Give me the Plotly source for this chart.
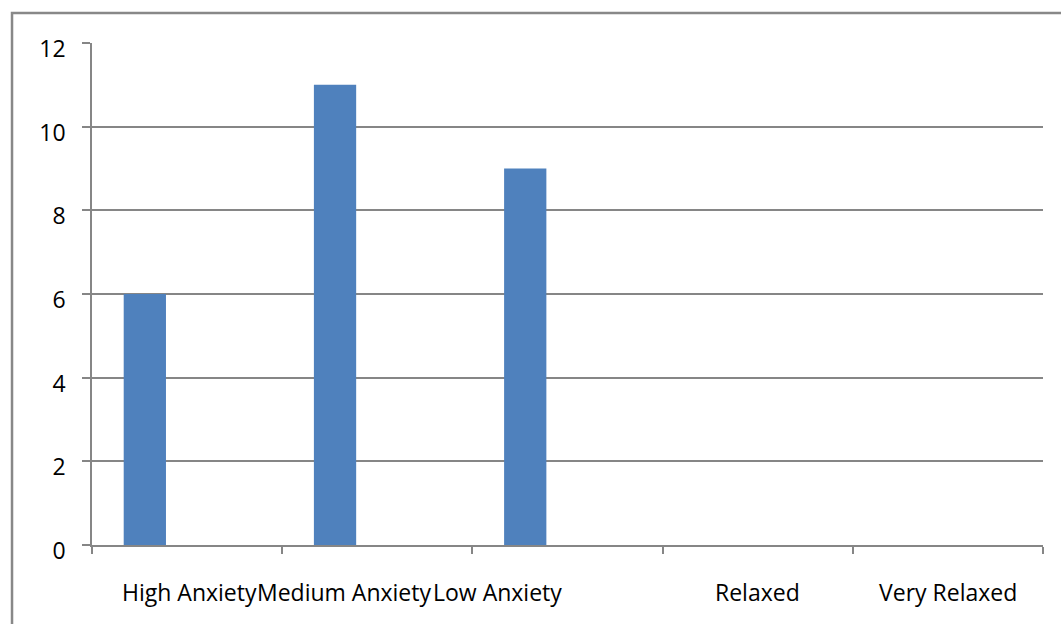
import plotly.graph_objects as go

# Anxiety-level survey counts
categories = ["High Anxiety", "Medium Anxiety", "Low Anxiety", "Relaxed", "Very Relaxed"]
counts = [6, 11, 9, 0, 0]
y_ticks = [0, 2, 4, 6, 8, 10, 12]

# horizontal nudges (px) for the crowded category captions
label_shift = [2, -33, -70, 0, 0]

GRID = "#868686"
FONT = dict(family="Open Sans", size=23, color="#000000")

fig = go.Figure(
    go.Bar(
        x=categories,
        y=counts,
        width=1 / 4.5,
        offset=-1.5 / 4.5,
        marker=dict(color="#4F81BD", line=dict(width=0)),
    )
)

fig.update_xaxes(
    type="category",
    range=[-0.5, 4.5],
    showticklabels=False,
    ticks="outside",
    tickson="boundaries",
    ticklen=7,
    tickwidth=1.6,
    tickcolor=GRID,
    showline=True,
    linecolor=GRID,
    linewidth=1.6,
    showgrid=False,
)

fig.update_yaxes(
    range=[0, 12],
    tickvals=y_ticks,
    ticktext=[str(v) for v in y_ticks],
    ticks="outside",
    ticklen=8,
    tickwidth=1.6,
    tickcolor=GRID,
    showline=True,
    linecolor=GRID,
    linewidth=1.6,
    showgrid=True,
    gridcolor=GRID,
    gridwidth=1.6,
    zeroline=False,
    tickfont=FONT,
    ticklabelstandoff=12,
    ticklabelshift=6,
)

for cat, shift in zip(categories, label_shift):
    fig.add_annotation(
        x=cat, xref="x", y=0, yref="y",
        text=cat, showarrow=False,
        xanchor="center", yanchor="middle",
        xshift=shift, yshift=-47,
        font=FONT,
    )

# chart-area frame
fig.add_shape(
    type="rect", xref="paper", yref="paper",
    x0=-0.0841, x1=1.1, y0=-0.3, y1=1.0598,
    line=dict(color="#888888", width=2.5),
    fillcolor="rgba(0,0,0,0)",
)

fig.update_layout(
    width=1061,
    height=624,
    margin=dict(l=92, r=18, t=43, b=79),
    paper_bgcolor="white",
    plot_bgcolor="white",
    showlegend=False,
    font=FONT,
)

fig.write_html("out.html")
